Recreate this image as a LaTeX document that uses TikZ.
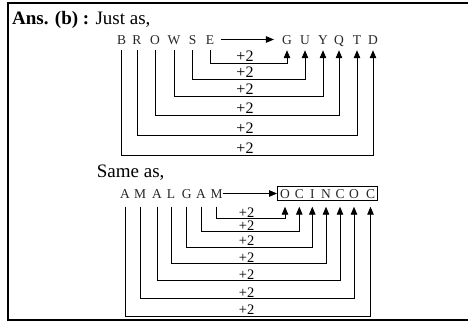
\documentclass[tikz,border=0pt]{standalone}
\usepackage{fontspec}
\setmainfont{Liberation Serif}
\usepackage{tikz}
\usetikzlibrary{positioning, fit, arrows.meta}
\tikzset{
    letter/.style={
        inner sep=0pt,
        anchor=base,
        text height=9pt,
        text depth=0pt,
        text=black!85,
        font=\fontsize{13.5}{15}\selectfont
    },
    plus/.style={inner sep=0pt, anchor=base, font=\fontsize{16}{18}\selectfont},
    heading/.style={inner sep=0pt, anchor=base west, font=\fontsize{19}{21}\selectfont},
    link/.style={-{Triangle[length=8pt, width=6.5pt]}, line width=0.9pt, draw=black},
    frame/.style={line width=1.2pt, draw=black}
}

\begin{document}
\begin{tikzpicture}[x=1pt, y=-1pt]
\useasboundingbox (0,0) rectangle (468,325);

% Frame
\draw[frame] (468,3) -- (8,3) -- (8,320) -- (468,320);

% Title
\node[heading] (ans) at (12,24) {\textbf{Ans. (b) :} Just as,};

% BROWSE -> GUYQTD
\foreach \l/\x [count=\k] in {B/121.7, R/137, O/155, W/174, S/192.7, E/210}
    \node[letter] (w\k) at (\x,44) {\l};
\foreach \l/\x [count=\k] in {G/287, U/305, Y/323, Q/339, T/357, D/373}
    \node[letter] (g\k) at (\x,44) {\l};

\draw[link, shorten <=7pt, shorten >=8pt] (w6.east) -- (g1.west);

\foreach \s/\t/\lev in {6/1/63.3, 5/2/79, 4/3/96.7, 3/4/115.7, 2/5/135.7, 1/6/155.7} {
    \coordinate (lv) at (0,\lev);
    \draw[link, shorten <=6pt, shorten >=6pt] (w\s.south) |- (g\t.south |- lv) -- (g\t.south);
    \node[plus] at (245,\lev-1.8) {+2};
}

% Same as
\node[heading] (same) at (96.7,177) {Same as,};

% AMALGAM -> OCINCOC
\foreach \l/\x [count=\k] in {A/125, M/140, A/157, L/171, G/186.7, A/201, M/216.5}
    \node[letter] (a\k) at (\x,198) {\l};
\foreach \l/\x [count=\k] in {O/285, C/299.3, I/312.3, N/326, C/340, O/354, C/370.5}
    \node[letter] (c\k) at (\x,198) {\l};

\node[draw, line width=0.8pt, fit=(c1)(c7), inner xsep=2.5pt, inner ysep=2.2pt] (box) {};
\draw[link] (a7.east) -- (box.west);

\foreach \s/\t/\lev in {7/1/218.3, 6/2/231.7, 5/3/247, 4/4/263.3, 3/5/280.7, 2/6/298.3, 1/7/316} {
    \coordinate (lv) at (0,\lev);
    \draw[link, shorten <=8.5pt, shorten >=8.5pt] (a\s.south) |- (c\t.south |- lv) -- (c\t.south);
    \node[plus, font=\fontsize{14.5}{16}\selectfont] at (246.7,\lev-1.2) {+2};
}

\end{tikzpicture}
\end{document}
